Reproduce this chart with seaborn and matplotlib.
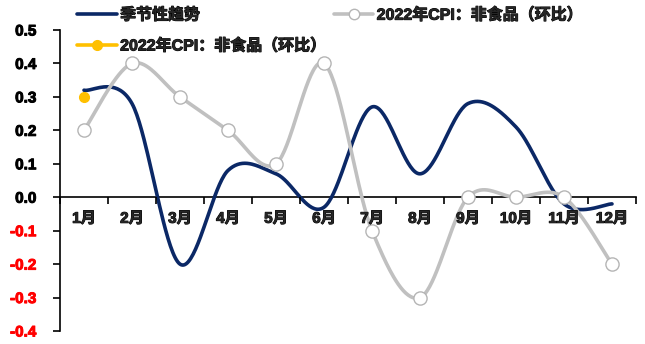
import numpy as np
import pandas as pd
import seaborn as sns
import matplotlib
matplotlib.use("Agg")
import matplotlib.pyplot as plt
import matplotlib.patheffects as pe
from matplotlib.lines import Line2D

# ---- data ----
months = ["1月", "2月", "3月", "4月", "5月", "6月",
          "7月", "8月", "9月", "10月", "11月", "12月"]
seasonal = [0.32, 0.28, -0.20, 0.08, 0.07, -0.03, 0.27, 0.07, 0.28, 0.21, -0.02, -0.02]
nonfood_2022 = [0.2, 0.4, 0.3, 0.2, 0.1, 0.4, -0.1, -0.3, 0.0, 0.0, 0.0, -0.2]
nonfood_2022_jan = [0.3]
yticks = [-0.4, -0.3, -0.2, -0.1, 0.0, 0.1, 0.2, 0.3, 0.4, 0.5]

label_trend = "季节性趋势"
label_series = "2022年CPI：非食品（环比）"

NAVY = "#0B2866"
GRAY = "#C0C0C0"
GOLD = "#FFC000"

sns.set_theme(style="white")
plt.rcParams["font.family"] = ["Liberation Sans", "Noto Sans CJK SC", "DejaVu Sans"]
plt.rcParams["axes.unicode_minus"] = False


def heavy(color):
    # thicken glyph outlines so the CJK characters read as bold
    return [pe.withStroke(linewidth=0.7, foreground=color)]


def smooth(values, n=40):
    """Bezier smoothing through every point (Catmull-Rom style control points)."""
    y = np.asarray(values, float)
    pts = np.column_stack([np.arange(len(y), dtype=float), y])
    last = len(pts) - 1
    segs = []
    for i in range(last):
        p0, p1 = pts[max(i - 1, 0)], pts[i]
        p2, p3 = pts[i + 1], pts[min(i + 2, last)]
        c1 = p1 + (p2 - p0) / 6.0
        c2 = p2 - (p3 - p1) / 6.0
        t = np.linspace(0, 1, n, endpoint=(i == last - 1))[:, None]
        segs.append((1 - t) ** 3 * p1 + 3 * (1 - t) ** 2 * t * c1
                    + 3 * (1 - t) * t ** 2 * c2 + t ** 3 * p2)
    out = np.vstack(segs)
    return pd.DataFrame({"x": out[:, 0], "y": out[:, 1]})


fig = plt.figure(figsize=(6.45, 3.44), dpi=100)
ax = fig.add_axes([60 / 645, 1 - 331 / 344, 576 / 645, 301 / 344])

trend_curve = smooth(seasonal)
series_curve = smooth(nonfood_2022)
pos = np.arange(len(months))

sns.lineplot(data=trend_curve, x="x", y="y", sort=False, estimator=None,
             color=NAVY, lw=2.6, ax=ax, zorder=3)
sns.lineplot(data=series_curve, x="x", y="y", sort=False, estimator=None,
             color=GRAY, lw=2.6, ax=ax, zorder=4)
ax.plot(pos, nonfood_2022, ls="none", marker="o", ms=9.5,
        mfc="white", mec="#B5B5B5", mew=1.0, zorder=5)
ax.plot(pos[:1], nonfood_2022_jan, ls="none", marker="o", ms=7,
        mfc=GOLD, mec=GOLD, zorder=6)

# axes
ax.set_xlim(-0.5, len(months) - 0.5)
ax.set_ylim(-0.4, 0.5)
ax.set_xlabel("")
ax.set_ylabel("")
for s in ["top", "right"]:
    ax.spines[s].set_visible(False)
ax.spines["bottom"].set_position(("data", 0))
for s in ["left", "bottom"]:
    ax.spines[s].set_color("black")
    ax.spines[s].set_linewidth(1.2)

ax.set_xticks(pos)
ax.set_xticklabels(months, fontsize=11, fontweight="bold")
ax.set_xticks(np.arange(-0.5, len(months), 1.0), minor=True)
ax.tick_params(axis="x", which="major", length=0, pad=10.5)
ax.tick_params(axis="x", which="minor", direction="out", length=5, width=1.2,
               color="black", bottom=True)
for lab in ax.get_xticklabels():
    lab.set_path_effects(heavy("black"))
ax.xaxis.set_zorder(10)

ax.set_yticks(yticks)
ax.set_yticklabels([f"{v:.1f}" for v in yticks], fontsize=11, fontweight="bold")
ax.tick_params(axis="y", direction="out", length=5, width=1.2, color="black",
               left=True, pad=12)
for lab, v in zip(ax.get_yticklabels(), yticks):
    c = "#FF0000" if v < 0 else "black"
    lab.set_color(c)
    lab.set_path_effects(heavy(c))

ax.grid(False)

handles = [
    Line2D([], [], color=NAVY, lw=2.6),
    Line2D([], [], color=GOLD, lw=2.6, marker="o", ms=7, mfc=GOLD, mec=GOLD),
    Line2D([], [], color=GRAY, lw=2.6, marker="o", ms=7.5, mfc="white", mec="#B5B5B5"),
]
labels = [label_trend, label_series, label_series]
leg = fig.legend(handles, labels, loc="upper left", bbox_to_anchor=(77 / 645, 1 - 7 / 344),
                 ncol=2, frameon=False, borderpad=0, borderaxespad=0,
                 handlelength=2.5, handletextpad=0.2, columnspacing=0.45,
                 labelspacing=0.95, prop={"size": 11.5, "weight": "bold"})
for t in leg.get_texts():
    t.set_path_effects(heavy("black"))

fig.savefig("out.png", dpi=100)
